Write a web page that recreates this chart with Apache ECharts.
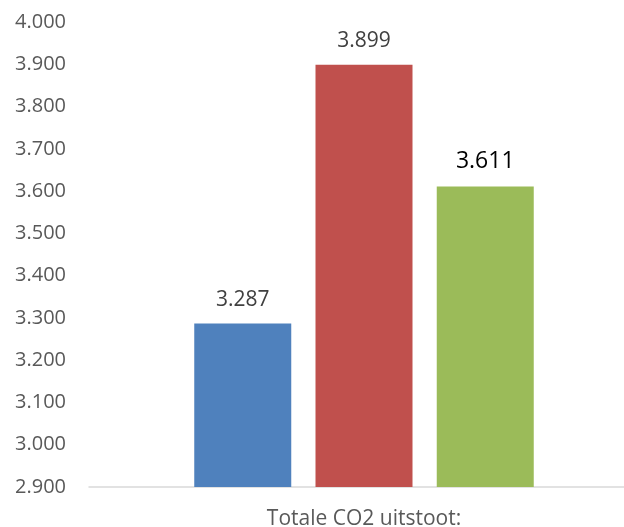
<!DOCTYPE html>
<html>
<head>
<meta charset="utf-8">
<script src="https://cdn.jsdelivr.net/npm/echarts@6/dist/echarts.min.js"></script>
<style>
  html, body { margin: 0; padding: 0; background: #fff; }
  #chart { width: 624px; height: 527px; }
</style>
</head>
<body>
<div id="chart"></div>
<script>
// Total CO2 emissions, one category with three bars
const categories = ['Totale CO2 uitstoot:'];
const seriesNames = ['Reeks 1', 'Reeks 2', 'Reeks 3'];
const seriesValues = [[3287], [3899], [3611]];
const seriesColors = ['#4F81BD', '#C0504D', '#9BBB59'];
const yMin = 2900;
const yMax = 4000;
const yStep = 100;

// Dutch thousands separator: 3287 -> "3.287"
function fmt(v) {
  return String(Math.round(v)).replace(/\B(?=(\d{3})+(?!\d))/g, '.');
}

const FONT = 'Open Sans';

const labelStyles = [
  { color: '#404040', fontSize: 21, distance: 13 },
  { color: '#404040', fontSize: 21, distance: 13 },
  { color: '#000000', fontSize: 23, distance: 13 }
];

const chart = echarts.init(document.getElementById('chart'), null, { renderer: 'canvas' });

chart.setOption({
  animation: false,
  backgroundColor: '#ffffff',
  // plot area runs past the right edge of the canvas
  grid: {
    left: 89, width: 550, top: 22, bottom: 40,
    containLabel: false,
    outerBoundsMode: 'none'
  },
  xAxis: {
    type: 'category',
    data: categories,
    axisLine: { show: true, lineStyle: { color: '#d9d9d9', width: 1.5 } },
    axisTick: { show: false },
    axisLabel: { color: '#595959', fontFamily: FONT, fontSize: 21, margin: 22 },
    splitLine: { show: false }
  },
  yAxis: {
    type: 'value',
    min: yMin,
    max: yMax,
    interval: yStep,
    axisLine: { show: false },
    axisTick: { show: false },
    splitLine: { show: false },
    axisLabel: {
      color: '#595959',
      fontFamily: FONT,
      fontSize: 20,
      margin: 23,
      formatter: fmt
    }
  },
  series: seriesNames.map((name, i) => ({
    name: name,
    type: 'bar',
    data: seriesValues[i],
    barWidth: 97,
    barGap: '25%',
    itemStyle: { color: seriesColors[i] },
    label: {
      show: true,
      position: 'top',
      distance: labelStyles[i].distance,
      color: labelStyles[i].color,
      fontFamily: FONT,
      fontSize: labelStyles[i].fontSize,
      formatter: p => fmt(p.value)
    }
  }))
});
</script>
</body>
</html>
